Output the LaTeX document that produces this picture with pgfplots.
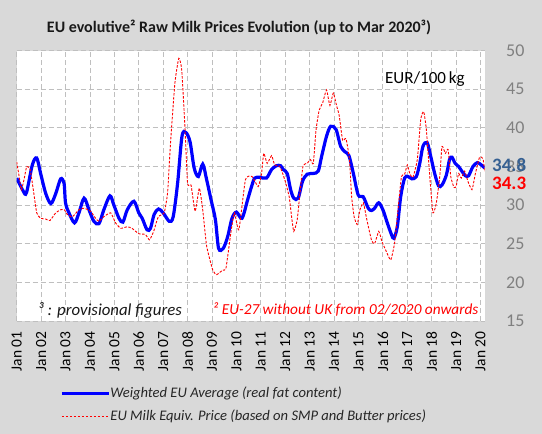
\documentclass[border=0pt]{standalone}
\usepackage{pgfplots}
\pgfplotsset{compat=1.18}
\usepackage{fontspec}
\setmainfont{Carlito}
\definecolor{bggray}{RGB}{217,217,217}
\definecolor{gridgray}{RGB}{191,191,191}
\definecolor{tickgray}{RGB}{128,128,128}
\definecolor{labblue}{RGB}{54,96,146}
\begin{document}
\begin{tikzpicture}[x=1pt,y=1pt]
\useasboundingbox (0,0) rectangle (542,434);
\fill[bggray] (0,0) rectangle (542,434);
\begin{axis}[
  at={(16.7pt,113pt)}, anchor=south west,
  scale only axis, width=468pt, height=270.4pt,
  xmin=2001, xmax=2020.17, ymin=15, ymax=50,
  axis background/.style={fill=white},
  axis line style={draw=none},
  xtick={2001,...,2020},
  xticklabels={Jan 01,Jan 02,Jan 03,Jan 04,Jan 05,Jan 06,Jan 07,Jan 08,Jan 09,Jan 10,Jan 11,Jan 12,Jan 13,Jan 14,Jan 15,Jan 16,Jan 17,Jan 18,Jan 19,Jan 20},
  xticklabel style={rotate=90, anchor=east, font=\fontsize{15.5}{15.5}\selectfont, text=black, xshift=-7pt},
  ytick={15,20,...,50},
  yticklabel pos=right,
  yticklabel style={anchor=west, xshift=18pt, font=\fontsize{18}{18}\selectfont, text=tickgray},
  /pgf/number format/assume math mode=true,
  major tick length=0pt,
  grid=major,
  major grid style={gridgray, dash pattern=on 5pt off 3pt, line width=0.8pt},
  legend style={at={(0.0925,-0.312)}, anchor=west, draw=none, fill=none, inner sep=0pt,
    font=\fontsize{14.6}{14.6}\selectfont\itshape, text=black!85,
    nodes={inner sep=0pt, text height=10pt, text depth=3pt}, row sep=10pt},
  legend cell align=left,
  legend image code/.code={\draw[#1] (0pt,0pt) -- (47pt,0pt);},
]
\addplot[blue, line width=3.2pt, smooth, tension=0.5] coordinates {
(2001.00,33.5)(2001.27,31.8)(2001.40,31.6)(2001.64,35.2)(2001.82,36.1)(2001.98,34.1)
(2002.19,31.5)(2002.40,30.2)(2002.60,31.5)(2002.80,33.4)(2002.94,32.8)(2003.00,30.3)
(2003.14,29.0)(2003.37,27.7)(2003.55,29.0)(2003.76,30.9)(2003.96,29.4)(2004.16,27.9)
(2004.37,27.6)(2004.57,29.4)(2004.82,31.2)(2004.98,30.0)(2005.19,28.3)(2005.35,27.8)
(2005.53,29.4)(2005.80,30.5)(2006.00,29.0)(2006.14,28.3)(2006.34,26.8)(2006.48,27.0)
(2006.63,28.8)(2006.81,29.5)(2007.00,29.0)(2007.25,27.9)(2007.41,28.5)(2007.59,32.8)
(2007.77,38.9)(2007.93,39.4)(2008.10,38.2)(2008.27,34.8)(2008.44,33.7)(2008.62,35.3)
(2008.78,33.3)(2008.96,30.7)(2009.14,28.1)(2009.27,24.4)(2009.46,24.4)(2009.64,25.9)
(2009.82,28.3)(2010.00,29.1)(2010.23,28.3)(2010.46,30.7)(2010.62,32.4)(2010.75,33.5)
(2010.96,33.6)(2011.23,33.5)(2011.44,34.6)(2011.64,35.1)(2011.81,35.1)(2011.92,34.6)
(2012.08,34.1)(2012.22,32.0)(2012.35,30.9)(2012.53,30.9)(2012.71,33.1)(2012.90,34.0)
(2013.15,34.1)(2013.35,34.4)(2013.49,36.3)(2013.69,38.9)(2013.86,40.2)(2014.08,39.8)
(2014.27,37.6)(2014.45,36.9)(2014.61,36.4)(2014.79,34.1)(2014.99,31.3)(2015.19,31.1)
(2015.40,29.6)(2015.53,29.3)(2015.66,29.6)(2015.83,30.3)(2016.00,29.4)(2016.18,27.7)
(2016.35,26.2)(2016.45,25.7)(2016.59,27.2)(2016.73,31.1)(2016.89,33.5)(2017.03,33.7)
(2017.19,33.4)(2017.37,33.7)(2017.51,35.4)(2017.64,37.6)(2017.81,38.1)(2017.96,36.3)
(2018.12,34.1)(2018.28,32.5)(2018.42,32.6)(2018.60,33.9)(2018.73,35.9)(2018.83,36.2)
(2018.96,35.4)(2019.10,35.0)(2019.21,34.5)(2019.38,33.8)(2019.51,33.8)(2019.69,35.0)
(2019.87,35.5)(2020.03,35.2)(2020.17,34.8)
};
\addlegendentry{Weighted EU Average (real fat content)}
\addplot[color=red, line width=0.9pt, dash pattern=on 2.5pt off 1.5pt, smooth, tension=0.3] coordinates {
(2001.00,35.6)(2001.10,33.7)(2001.19,32.0)(2001.30,33.3)(2001.41,35.0)(2001.55,34.6)
(2001.68,32.0)(2001.82,29.0)(2001.98,28.3)(2002.19,28.2)(2002.36,28.0)(2002.60,29.0)
(2002.80,29.4)(2002.95,29.4)(2003.07,28.8)(2003.28,28.5)(2003.55,29.4)(2003.76,29.6)
(2004.03,29.2)(2004.23,28.3)(2004.37,27.9)(2004.57,28.5)(2004.85,29.0)(2005.05,27.7)
(2005.26,27.0)(2005.53,27.2)(2005.72,27.0)(2006.00,26.3)(2006.27,26.2)(2006.44,25.5)
(2006.61,26.6)(2006.80,28.5)(2007.04,29.0)(2007.18,31.6)(2007.30,38.0)(2007.48,45.8)
(2007.64,49.0)(2007.76,47.5)(2007.89,40.2)(2008.00,32.8)(2008.14,32.6)(2008.31,29.2)
(2008.48,32.2)(2008.62,29.4)(2008.78,24.7)(2009.03,21.6)(2009.19,21.0)(2009.44,21.6)
(2009.57,21.8)(2009.78,26.6)(2009.92,29.0)(2010.10,26.8)(2010.37,33.3)(2010.64,33.7)
(2010.89,32.4)(2011.03,34.1)(2011.12,36.7)(2011.26,35.4)(2011.44,36.4)(2011.57,35.2)
(2011.78,35.0)(2011.98,33.3)(2012.16,31.1)(2012.26,28.5)(2012.35,26.6)(2012.49,28.1)
(2012.60,31.5)(2012.73,35.1)(2012.90,35.4)(2013.03,35.9)(2013.15,35.4)(2013.26,39.7)
(2013.39,42.3)(2013.53,43.2)(2013.69,44.9)(2013.83,42.9)(2013.97,44.5)(2014.10,42.9)
(2014.21,41.6)(2014.35,38.4)(2014.49,38.6)(2014.63,35.9)(2014.72,31.1)(2014.82,28.5)
(2014.95,27.5)(2015.06,29.4)(2015.20,30.3)(2015.33,28.3)(2015.53,25.5)(2015.66,25.0)
(2015.83,26.6)(2015.96,25.3)(2016.14,24.0)(2016.32,22.9)(2016.48,25.1)(2016.62,29.4)
(2016.76,33.7)(2016.89,34.0)(2017.00,35.2)(2017.10,34.1)(2017.23,33.6)(2017.41,35.9)
(2017.55,41.1)(2017.67,42.1)(2017.78,39.8)(2017.92,33.7)(2018.05,29.0)(2018.19,30.3)
(2018.33,33.7)(2018.42,37.6)(2018.56,36.7)(2018.67,37.2)(2018.78,33.7)(2018.91,32.3)
(2019.00,32.4)(2019.10,34.1)(2019.21,33.5)(2019.35,34.4)(2019.48,33.1)(2019.65,32.0)
(2019.79,34.1)(2019.96,36.2)(2020.10,36.0)(2020.17,34.3)
};
\addlegendentry{EU Milk Equiv. Price (based on SMP and Butter prices)}
\end{axis}
\node[font=\fontsize{16}{16}\selectfont\bfseries, text=black!90] at (239,406) {EU evolutive² Raw Milk Prices Evolution (up to Mar 2020³)};
\node[font=\fontsize{17}{17}\selectfont, anchor=west, inner sep=0pt] at (385,355) {EUR/100\,kg};
\node[font=\fontsize{16.8}{16.8}\selectfont\itshape, anchor=west, inner sep=0pt, text=black!90] at (38,124) {³ : provisional figures};
\node[font=\fontsize{15.3}{15.3}\selectfont\itshape, anchor=west, inner sep=0pt, text=red] at (213,124) {² EU-27 without UK from 02/2020 onwards};
\node[font=\fontsize{19}{19}\selectfont\bfseries, anchor=west, inner sep=0pt, text=labblue] at (492,269) {34.8};
\node[font=\fontsize{19}{19}\selectfont\bfseries, anchor=west, inner sep=0pt, text=red] at (492,251) {34.3};
\end{tikzpicture}
\end{document}
